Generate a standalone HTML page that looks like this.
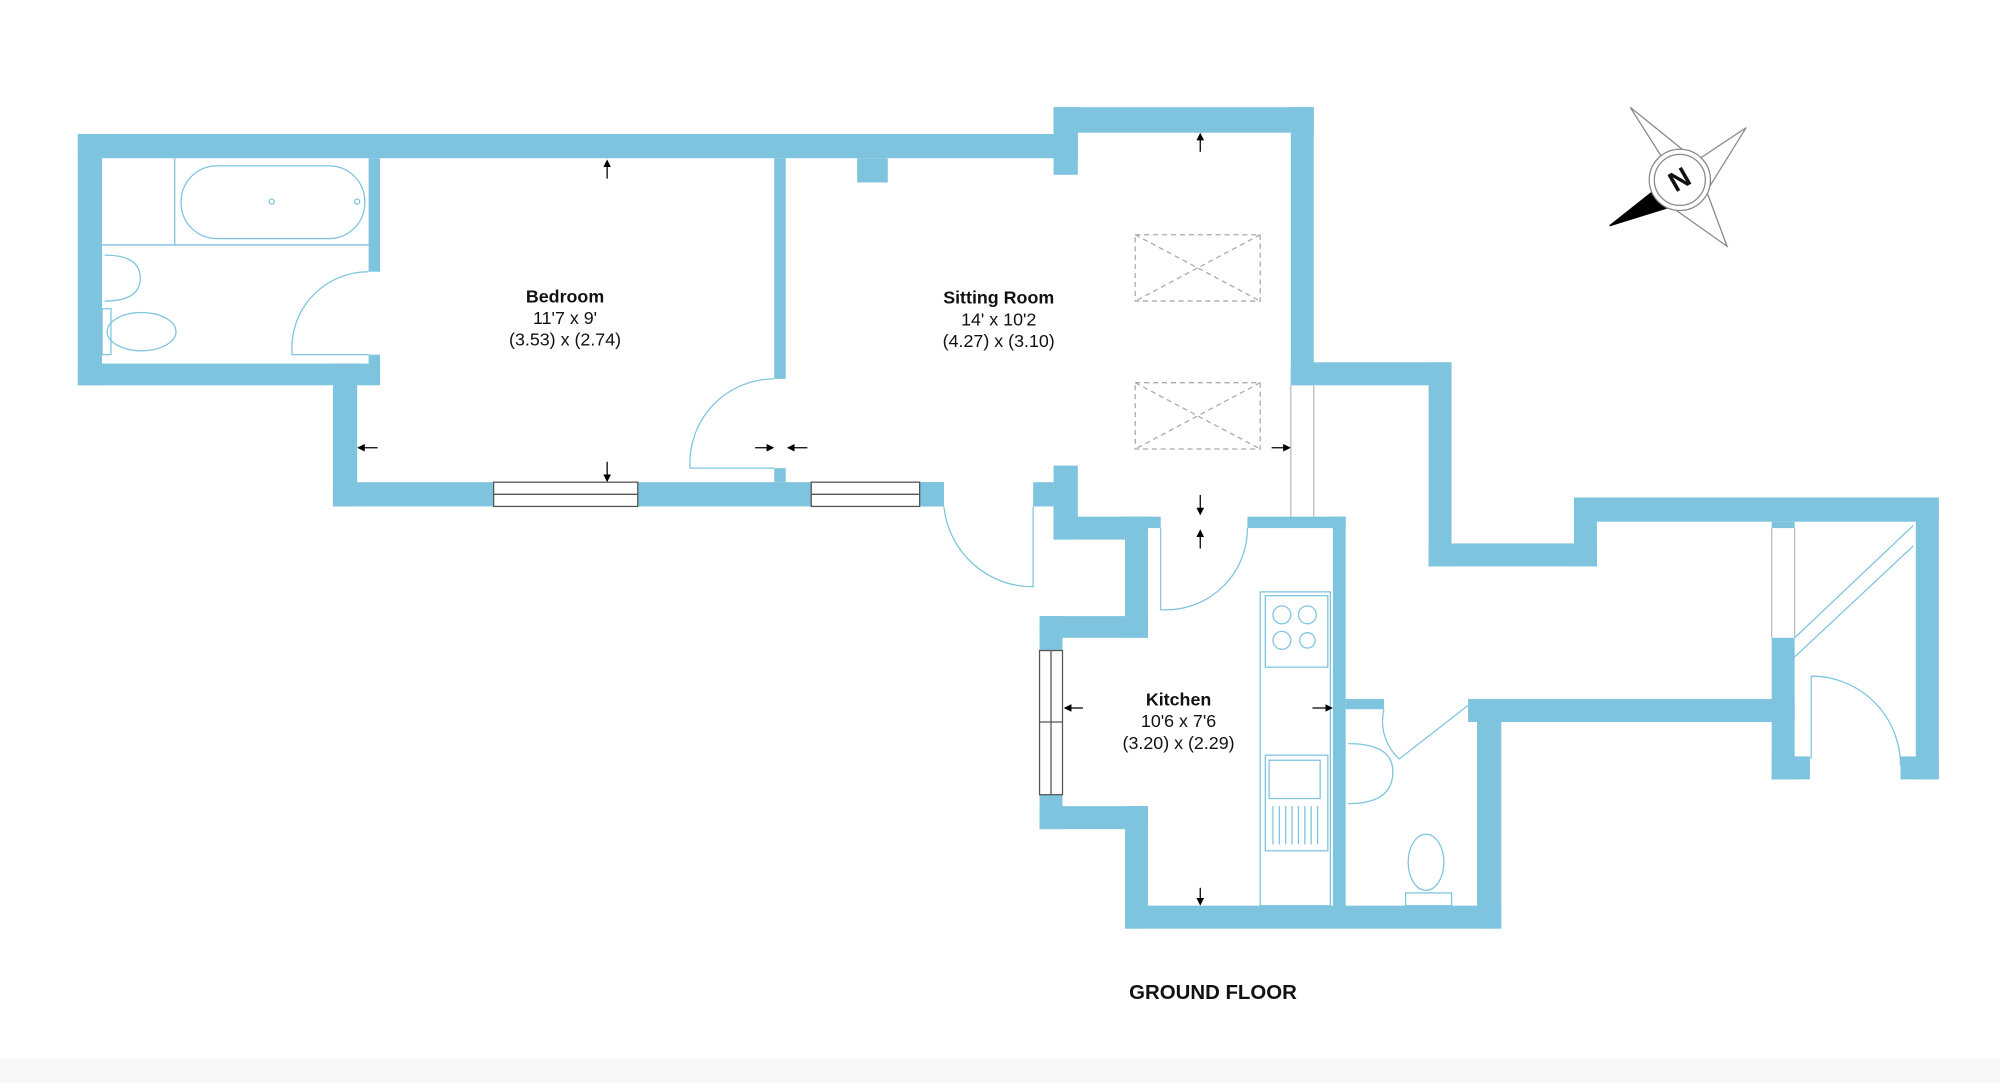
<!DOCTYPE html>
<html><head><meta charset="utf-8"><style>
html,body{margin:0;padding:0;background:#fff;width:2000px;height:1083px;overflow:hidden}
svg{display:block}
text{font-family:"Liberation Sans",sans-serif;fill:#111;text-anchor:middle}
.b{font-weight:bold;font-size:14px}
.n{font-size:14px}
</style></head><body>
<svg width="2000" height="1083" viewBox="0 0 1568 849" xmlns="http://www.w3.org/2000/svg">
<defs><marker id="ah" markerWidth="6" markerHeight="6" refX="5" refY="3" orient="auto"><path d="M0,0L6,3L0,6z" fill="#000"/></marker></defs>
<rect x="0" y="830" width="1568" height="19" fill="#f8f8f8"/>
<g fill="#7ec4df">
<!-- bedroom/bath block -->
<rect x="61" y="105" width="784" height="19"/>
<rect x="61" y="105" width="19" height="197"/>
<rect x="61" y="285" width="237" height="17"/>
<rect x="261" y="285" width="19" height="112"/>
<rect x="261" y="378" width="479" height="19"/>
<rect x="289" y="124" width="9" height="89"/>
<rect x="289" y="278" width="9" height="15"/>
<rect x="607" y="124" width="9" height="173"/>
<rect x="607" y="367" width="9" height="11"/>
<rect x="672" y="124" width="24" height="19"/>
<!-- sitting room -->
<rect x="826" y="84" width="204" height="20"/>
<rect x="826" y="84" width="19" height="53"/>
<rect x="1012" y="84" width="18" height="218"/>
<rect x="1012" y="284" width="126" height="18"/>
<rect x="1120" y="284" width="18" height="160"/>
<rect x="1120" y="426" width="132" height="18"/>
<rect x="1234" y="390" width="18" height="54"/>
<rect x="1234" y="390" width="286" height="19"/>
<rect x="1502" y="390" width="18" height="221"/>
<rect x="1490" y="593" width="30" height="18"/>
<rect x="1389" y="500" width="18" height="111"/>
<rect x="1389" y="593" width="30" height="18"/>
<rect x="1389" y="409" width="18" height="5"/>
<rect x="1151" y="548" width="256" height="18"/>
<rect x="1158" y="548" width="19" height="180"/>
<rect x="882" y="710" width="295" height="18"/>
<rect x="882" y="632" width="18" height="96"/>
<rect x="815" y="632" width="85" height="18"/>
<rect x="815" y="483" width="18" height="167"/>
<rect x="815" y="483" width="85" height="17"/>
<rect x="882" y="405" width="18" height="95"/>
<rect x="826" y="405" width="74" height="18"/>
<rect x="826" y="365" width="19" height="58"/>
<rect x="810" y="378" width="16" height="19"/>
<rect x="721" y="378" width="19" height="19"/>
<rect x="978" y="405" width="77" height="9"/>
<rect x="1045" y="405" width="10" height="307"/>
<rect x="1055" y="548" width="30" height="8"/>
<rect x="900" y="405" width="10" height="9"/>
</g>
<g fill="#fff" stroke="#555" stroke-width="1">
<rect x="387" y="378" width="113" height="19"/><line x1="387" y1="387.5" x2="500" y2="387.5"/>
<rect x="636" y="378" width="85" height="19"/><line x1="636" y1="387.5" x2="721" y2="387.5"/>
<rect x="815" y="510" width="18" height="113"/><line x1="824" y1="510" x2="824" y2="623"/><line x1="815" y1="566" x2="833" y2="566"/>
</g>
<g fill="none" stroke="#7ec4df" stroke-width="1">
<!-- bath -->
<line x1="80" y1="192" x2="289" y2="192"/><line x1="137" y1="124" x2="137" y2="192"/>
<rect x="142" y="130" width="144" height="57" rx="28"/>
<circle cx="213" cy="158" r="2"/><circle cx="280" cy="158" r="2"/>
<path d="M82,200 Q110,200 110,218 Q110,236 82,236"/>
<ellipse cx="111" cy="260" rx="27" ry="15"/><rect x="80" y="242" width="7" height="36"/>
<!-- doors -->
<path d="M289,213 A60,60 0 0 0 229,278 L289,278"/>
<path d="M607,297 A66,66 0 0 0 541,367 L607,367"/>
<path d="M740,397 A70,70 0 0 0 810,460 L810,397"/>
<path d="M910,414 L910,478 A64,64 0 0 0 978,414"/>
<path d="M1085,556 A40,40 0 0 0 1097,595 L1151,553"/>
<path d="M1420,530 A70,70 0 0 1 1490,600 M1420,530 L1420,595"/>
<!-- corridor windows/lines -->
<line x1="1012" y1="302" x2="1012" y2="405" stroke="#bbb"/><line x1="1030" y1="302" x2="1030" y2="405" stroke="#bbb"/>
<line x1="1389" y1="414" x2="1389" y2="500" stroke="#bbb"/><line x1="1407" y1="414" x2="1407" y2="500" stroke="#bbb"/>
<line x1="1407" y1="500" x2="1500" y2="412"/><line x1="1407" y1="515" x2="1500" y2="428"/>
<!-- kitchen units -->
<rect x="988" y="464" width="55" height="246"/>
<rect x="992" y="467" width="49" height="56"/>
<circle cx="1005" cy="482" r="7"/><circle cx="1025" cy="482" r="7"/><circle cx="1005" cy="502" r="7"/><circle cx="1025" cy="502" r="6"/>
<rect x="992" y="592" width="49" height="75"/><rect x="995" y="596" width="40" height="30"/>
<path d="M998,632 v30 M1003,632 v30 M1008,632 v30 M1013,632 v30 M1018,632 v30 M1023,632 v30 M1028,632 v30 M1033,632 v30"/>
<!-- wc -->
<path d="M1057,583 Q1092,583 1092,605 Q1092,630 1057,630"/>
<ellipse cx="1118" cy="676" rx="14" ry="22"/><rect x="1102" y="700" width="36" height="10"/>
</g>
<!-- rooflights -->
<g fill="none" stroke="#aaa" stroke-dasharray="4,3">
<rect x="890" y="184" width="98" height="52"/><path d="M890,184L988,236M988,184L890,236"/>
<rect x="890" y="300" width="98" height="52"/><path d="M890,300L988,352M988,300L890,352"/>
</g>
<!-- arrows -->
<g stroke="#000" stroke-width="1" marker-end="url(#ah)">
<line x1="476" y1="140" x2="476" y2="126"/>
<line x1="476" y1="362" x2="476" y2="377"/>
<line x1="296" y1="351" x2="281" y2="351"/>
<line x1="592" y1="351" x2="606" y2="351"/>
<line x1="633" y1="351" x2="618" y2="351"/>
<line x1="941" y1="119" x2="941" y2="105"/>
<line x1="997" y1="351" x2="1011" y2="351"/>
<line x1="941" y1="388" x2="941" y2="403"/>
<line x1="941" y1="430" x2="941" y2="416"/>
<line x1="849" y1="555" x2="835" y2="555"/>
<line x1="1029" y1="555" x2="1044" y2="555"/>
<line x1="941" y1="696" x2="941" y2="709"/>
</g>
<!-- labels -->
<text class="b" x="443" y="237">Bedroom</text>
<text class="n" x="443" y="254">11'7 x 9'</text>
<text class="n" x="443" y="271">(3.53) x (2.74)</text>
<text class="b" x="783" y="238">Sitting Room</text>
<text class="n" x="783" y="255">14' x 10'2</text>
<text class="n" x="783" y="272">(4.27) x (3.10)</text>
<text class="b" x="924" y="553">Kitchen</text>
<text class="n" x="924" y="570">10'6 x 7'6</text>
<text class="n" x="924" y="587">(3.20) x (2.29)</text>
<text class="b" x="951" y="783" style="font-size:16px">GROUND FLOOR</text>
<!-- compass -->
<g stroke="#888" stroke-width="1" fill="#fff">
<polygon points="1278,84 1306,128 1317,141 1330,126"/>
<polygon points="1369,100 1330,126 1317,141 1338,150"/>
<polygon points="1354,193 1338,150 1317,141 1310,162"/>
<polygon points="1262,177 1296,150 1317,141 1310,162" fill="#000" stroke="#000"/>
<circle cx="1317" cy="141" r="24"/><circle cx="1317" cy="141" r="20"/>
</g>
<text x="1317" y="148" transform="rotate(-30 1317 141)" style="font-weight:bold;font-size:22px">N</text>
</svg>
</body></html>
